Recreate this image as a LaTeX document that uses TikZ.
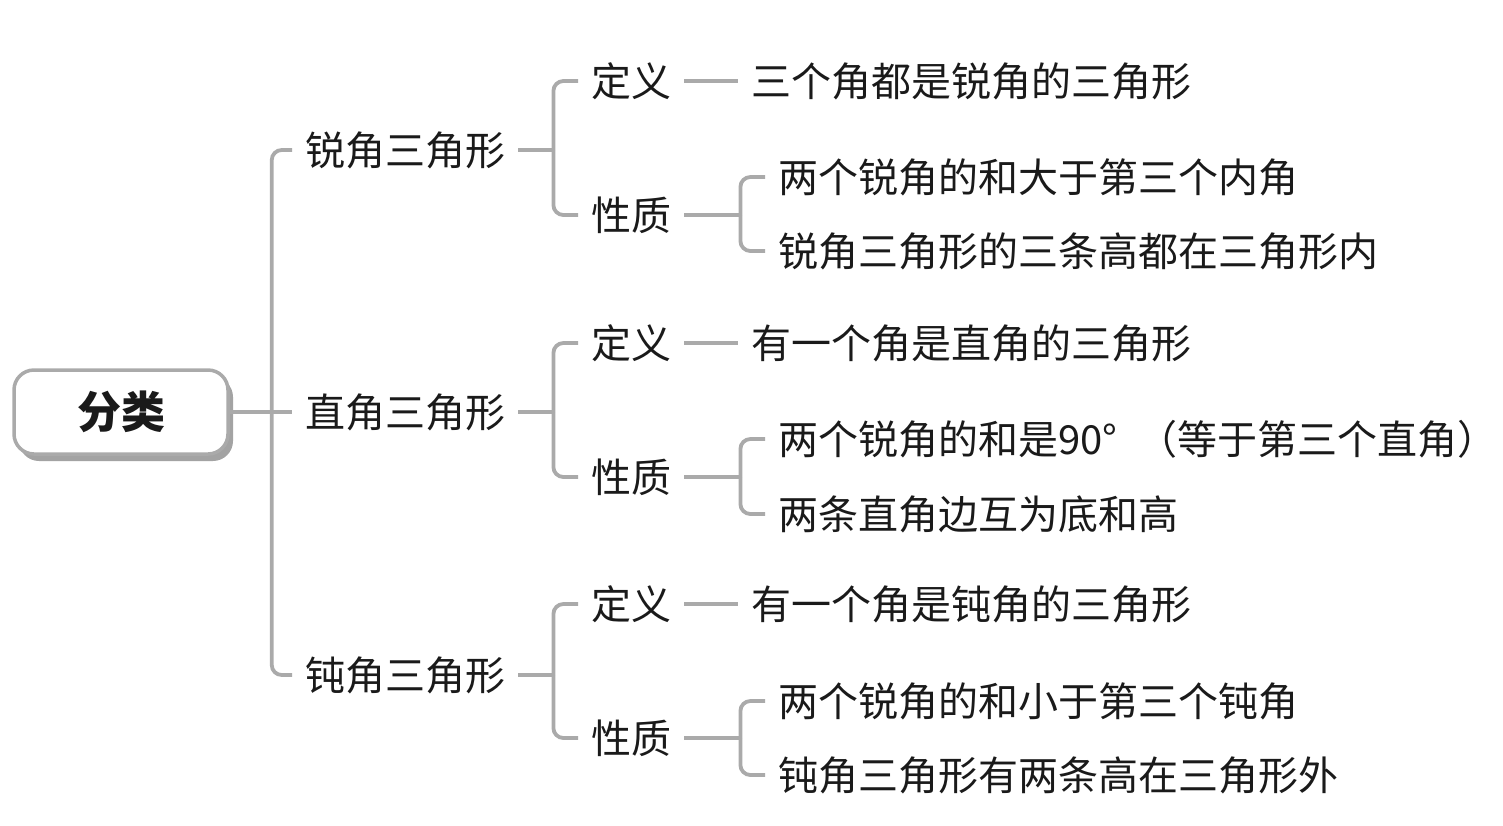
\documentclass[tikz,border=0pt]{standalone}
\usepackage{fontspec}
\setmainfont{Noto Sans CJK SC}
\usetikzlibrary{shadows}

\definecolor{linkgray}{HTML}{AAAAAA}
\definecolor{shadowgray}{HTML}{A3A3A3}
\definecolor{textblack}{HTML}{1A1A1A}

\begin{document}
\begin{tikzpicture}[
    x=1pt, y=-1pt,
    root node/.style={rectangle, rounded corners=20pt, draw=linkgray, line width=3.5pt,
      fill=white, minimum width=214pt, minimum height=84pt, text=textblack,
      font=\fontsize{44}{50}\selectfont\bfseries,
      drop shadow={shadow xshift=5pt, shadow yshift=-7pt, fill=shadowgray, opacity=1}},
    topic node/.style={anchor=west, inner xsep=13pt, inner ysep=0pt, text=textblack,
      font=\fontsize{40}{48}\selectfont},
    link/.style={draw=linkgray, line width=3.8pt, rounded corners=10pt},
    ]
  \useasboundingbox (0,0) rectangle (1503,825);

  \node[root node] (root) at (121,412) {分类};

  % acute
  \node[topic node] (acute) at (292,150) {锐角三角形};
  \node[topic node] (acute def) at (578,81) {定义};
  \node[topic node] (acute prop) at (578,215) {性质};
  \node[topic node] (acute def text) at (738,81) {三个角都是锐角的三角形};
  \node[topic node] (acute prop a) at (765,177) {两个锐角的和大于第三个内角};
  \node[topic node] (acute prop b) at (765,251) {锐角三角形的三条高都在三角形内};

  % right
  \node[topic node] (right) at (292,412) {直角三角形};
  \node[topic node] (right def) at (578,343) {定义};
  \node[topic node] (right prop) at (578,477) {性质};
  \node[topic node] (right def text) at (738,343) {有一个角是直角的三角形};
  \node[topic node] (right prop a) at (765,439) {两个锐角的和是90°\hspace{20pt}（等于第三个直角）};
  \node[topic node] (right prop b) at (765,514) {两条直角边互为底和高};

  % obtuse
  \node[topic node] (obtuse) at (292,675) {钝角三角形};
  \node[topic node] (obtuse def) at (578,604) {定义};
  \node[topic node] (obtuse prop) at (578,738) {性质};
  \node[topic node] (obtuse def text) at (738,604) {有一个角是钝角的三角形};
  \node[topic node] (obtuse prop a) at (765,701) {两个锐角的和小于第三个钝角};
  \node[topic node] (obtuse prop b) at (765,775) {钝角三角形有两条高在三角形外};

  \draw[link] (root.east) -- ++(42,0) coordinate (root fork);
  \draw[link] (root fork) |- (acute.west);
  \draw[link] (root fork) |- (obtuse.west);
  \draw[link] (root fork) -- (right.west);

  \draw[link] (acute.east) -- ++(35,0) coordinate (acute fork);
  \draw[link] (acute fork) |- (acute def.west);
  \draw[link] (acute fork) |- (acute prop.west);
  \draw[link] (acute def.east) -- (acute def text.west);
  \draw[link] (acute prop.east) -- ++(56,0) coordinate (acute prop fork);
  \draw[link] (acute prop fork) |- (acute prop a.west);
  \draw[link] (acute prop fork) |- (acute prop b.west);

  \draw[link] (right.east) -- ++(35,0) coordinate (right fork);
  \draw[link] (right fork) |- (right def.west);
  \draw[link] (right fork) |- (right prop.west);
  \draw[link] (right def.east) -- (right def text.west);
  \draw[link] (right prop.east) -- ++(56,0) coordinate (right prop fork);
  \draw[link] (right prop fork) |- (right prop a.west);
  \draw[link] (right prop fork) |- (right prop b.west);

  \draw[link] (obtuse.east) -- ++(35,0) coordinate (obtuse fork);
  \draw[link] (obtuse fork) |- (obtuse def.west);
  \draw[link] (obtuse fork) |- (obtuse prop.west);
  \draw[link] (obtuse def.east) -- (obtuse def text.west);
  \draw[link] (obtuse prop.east) -- ++(56,0) coordinate (obtuse prop fork);
  \draw[link] (obtuse prop fork) |- (obtuse prop a.west);
  \draw[link] (obtuse prop fork) |- (obtuse prop b.west);
\end{tikzpicture}
\end{document}
